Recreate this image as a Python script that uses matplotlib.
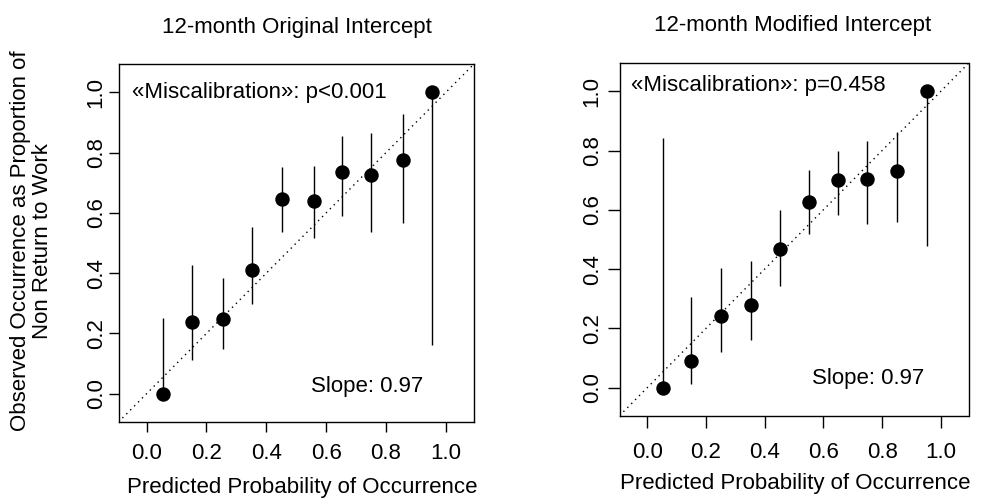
import matplotlib
matplotlib.use("Agg")
import matplotlib.pyplot as plt

plt.rcParams['font.family'] = ['Liberation Sans', 'DejaVu Sans']

# left panel: 12-month original intercept
pred_orig = [0.056, 0.153, 0.255, 0.353, 0.452, 0.558, 0.652, 0.750, 0.856, 0.954]
obs_orig = [0.0, 0.239, 0.247, 0.41, 0.645, 0.64, 0.737, 0.725, 0.776, 1.0]
lo_orig = [0.0, 0.112, 0.149, 0.299, 0.537, 0.518, 0.589, 0.535, 0.565, 0.161]
hi_orig = [0.25, 0.426, 0.383, 0.553, 0.753, 0.755, 0.856, 0.865, 0.928, 1.0]

# right panel: 12-month modified intercept
pred_mod = [0.055, 0.150, 0.253, 0.352, 0.453, 0.552, 0.650, 0.749, 0.851, 0.953]
obs_mod = [0.0, 0.092, 0.241, 0.278, 0.469, 0.626, 0.699, 0.703, 0.732, 1.0]
lo_mod = [0.0, 0.014, 0.122, 0.162, 0.343, 0.519, 0.583, 0.551, 0.559, 0.477]
hi_mod = [0.843, 0.306, 0.405, 0.428, 0.601, 0.733, 0.799, 0.831, 0.863, 1.0]

ticks = [0.0, 0.2, 0.4, 0.6, 0.8, 1.0]
tick_labels = ["0.0", "0.2", "0.4", "0.6", "0.8", "1.0"]

W, H = 986, 501
fig = plt.figure(figsize=(W / 100, H / 100), dpi=100)


def px_axes(x0, y0, x1, y1):
    return fig.add_axes([x0 / W, 1 - y1 / H, (x1 - x0) / W, (y1 - y0) / H])


def panel(ax, x, y, lo, hi, ptext, ppos, spos, tlen, xpad, ypad):
    ax.set_xlim(-0.094, 1.094)
    ax.set_ylim(-0.094, 1.094)
    ax.axline((0, 0), slope=1, color='black', lw=1.0, linestyle=(0, (1, 3)))
    ax.vlines(x, lo, hi, color='black', lw=1.0)
    ax.plot(x, y, 'o', color='black', markersize=9.4)
    ax.set_xticks(ticks)
    ax.set_xticklabels(tick_labels)
    ax.set_yticks(ticks)
    ax.set_yticklabels(tick_labels, rotation=90, va='center')
    ax.tick_params(axis='both', direction='out', length=tlen, width=1.0,
                   labelsize=16, colors='black')
    ax.tick_params(axis='x', pad=xpad)
    ax.tick_params(axis='y', pad=ypad)
    for s in ax.spines.values():
        s.set_linewidth(1.0)
    ax.text(ppos[0], ppos[1], ptext, fontsize=16, ha='left', va='center')
    ax.text(spos[0], spos[1], "Slope: 0.97", fontsize=16, ha='center', va='center')


ax1 = px_axes(118.5, 64, 474, 422)
panel(ax1, pred_orig, obs_orig, lo_orig, hi_orig,
      "«Miscalibration»: p<0.001", (-0.049, 1.0), (0.736, 0.025), 7, 8, 1.5)

ax2 = px_axes(619.5, 63.3, 968.5, 415.7)
panel(ax2, pred_mod, obs_mod, lo_mod, hi_mod,
      "«Miscalibration»: p=0.458", (-0.055, 1.019), (0.753, 0.03), 8.5, 10.5, 3.6)

fig.text(297 / W, 1 - 28 / H, "12-month Original Intercept", fontsize=16,
         ha='center', va='center')
fig.text(793 / W, 1 - 25 / H, "12-month Modified Intercept", fontsize=16,
         ha='center', va='center')

fig.text(302 / W, 1 - 488 / H, "Predicted Probability of Occurrence", fontsize=16,
         ha='center', va='center')
fig.text(795 / W, 1 - 483.3 / H, "Predicted Probability of Occurrence", fontsize=16,
         ha='center', va='center')

# two-line y label, placed line by line
fig.text(20.5 / W, 1 - 241 / H, "Observed Occurrence as Proportion of", fontsize=16,
         ha='center', va='center', rotation=90)
fig.text(42.5 / W, 1 - 241 / H, "Non Return to Work", fontsize=16,
         ha='center', va='center', rotation=90)

fig.savefig("out.png", dpi=100)
